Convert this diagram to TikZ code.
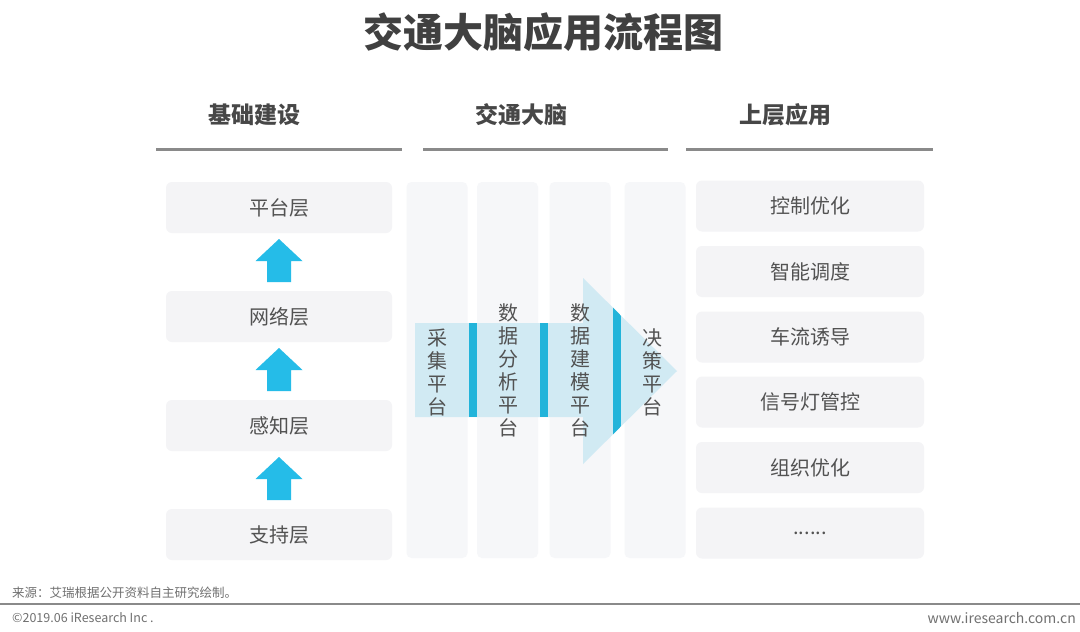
\documentclass[tikz,border=0pt]{standalone}
\usepackage{fontspec}
\setmainfont{Noto Sans CJK SC}
\definecolor{boxgray}{HTML}{F4F4F6}
\definecolor{colbg}{HTML}{F6F7F9}
\definecolor{arrowlight}{HTML}{CDE9F3}
\definecolor{barblue}{HTML}{22B4DA}
\definecolor{upblue}{HTML}{25BCE8}
\definecolor{txt}{HTML}{525252}
\definecolor{headtxt}{HTML}{474747}
\definecolor{rulegray}{HTML}{8A8A8A}
\definecolor{foottxt}{HTML}{707070}
\begin{document}
\begin{tikzpicture}[x=1pt,y=-1pt,
  box/.style={fill=boxgray, rounded corners=6pt, minimum height=51pt, inner sep=0pt, text=txt, font=\fontsize{20}{24}\selectfont},
  lbox/.style={box, minimum width=226pt},
  rbox/.style={box, minimum width=228pt},
  colbox/.style={fill=colbg, rounded corners=5pt, minimum width=61pt, minimum height=376pt, inner sep=0pt},
  vtext/.style={align=center, text=txt, font=\fontsize{20}{23}\selectfont, inner sep=0pt},
  head/.style={text=headtxt, font=\fontsize{23}{26}\selectfont\bfseries},
  headrule/.style={draw=rulegray, line width=3pt},
  upar/.style={fill=upblue},
  foot/.style={text=foottxt, anchor=west, inner sep=0pt, font=\fontsize{12.5}{14}\selectfont}
]
\useasboundingbox (0,0) rectangle (1080,632);
\fill[white] (0,0) rectangle (1080,632);

% title
\node[text=headtxt!90!black, font=\fontsize{40}{44}\selectfont\bfseries] (title) at (543,32) {交通大脑应用流程图};

% headers
\node[head] (h1) at (254,115) {基础建设};
\node[head] (h2) at (521,115) {交通大脑};
\node[head] (h3) at (785,115) {上层应用};
\coordinate (r1a) at (156,149); \coordinate (r1b) at (402,149);
\coordinate (r2a) at (423,149); \coordinate (r2b) at (668,149);
\coordinate (r3a) at (686,149); \coordinate (r3b) at (933,149);
\draw[headrule] (r1a) -- (r1b);
\draw[headrule] (r2a) -- (r2b);
\draw[headrule] (r3a) -- (r3b);

% left column
\node[lbox] (l1) at (279,207.5) {平台层};
\node[lbox] (l2) at (279,316.5) {网络层};
\node[lbox] (l3) at (279,425.5) {感知层};
\node[lbox] (l4) at (279,534.5) {支持层};
\foreach \t in {239,348,457}{
  \fill[upar] (279,\t) -- (302.5,\t+22) -- (291,\t+22) -- (291,\t+43) -- (267,\t+43) -- (267,\t+22) -- (255.5,\t+22) -- cycle;
}

% middle columns
\node[colbox] (c1) at (437,370) {};
\node[colbox] (c2) at (507.5,370) {};
\node[colbox] (c3) at (580,370) {};
\node[colbox] (c4) at (655,370) {};

% big arrow
\fill[arrowlight, opacity=0.9] (415,323) -- (583,323) -- (583,278) -- (677,371) -- (583,464) -- (583,417) -- (415,417) -- cycle;
\fill[barblue] (469,323) rectangle (477,417);
\fill[barblue] (540,323) rectangle (548,417);
\begin{scope}
  \clip (583,278) -- (677,371) -- (583,464) -- cycle;
  \fill[barblue] (613,260) rectangle (621,480);
\end{scope}

\node[vtext] (t1) at (437,372) {采\\集\\平\\台};
\node[vtext] (t2) at (508,370) {数\\据\\分\\析\\平\\台};
\node[vtext] (t3) at (580,370) {数\\据\\建\\模\\平\\台};
\node[vtext] (t4) at (652,372) {决\\策\\平\\台};

% right column
\node[rbox] (a1) at (810,206) {控制优化};
\node[rbox] (a2) at (810,271.5) {智能调度};
\node[rbox] (a3) at (810,337) {车流诱导};
\node[rbox] (a4) at (810,402) {信号灯管控};
\node[rbox] (a5) at (810,467.5) {组织优化};
\node[rbox] (a6) at (810,533) {......};

% footer
\node[foot] (src) at (12,593) {来源：艾瑞根据公开资料自主研究绘制。};
\coordinate (fa) at (0,604); \coordinate (fb) at (1080,604);
\draw[draw=rulegray, line width=1.2pt] (fa) -- (fb);
\node[foot] (copy) at (12,618) {©2019.06 iResearch Inc .};
\node[foot, anchor=east, font=\fontsize{14}{16}\selectfont] (www) at (1076,618) {www.iresearch.com.cn};
\end{tikzpicture}
\end{document}
